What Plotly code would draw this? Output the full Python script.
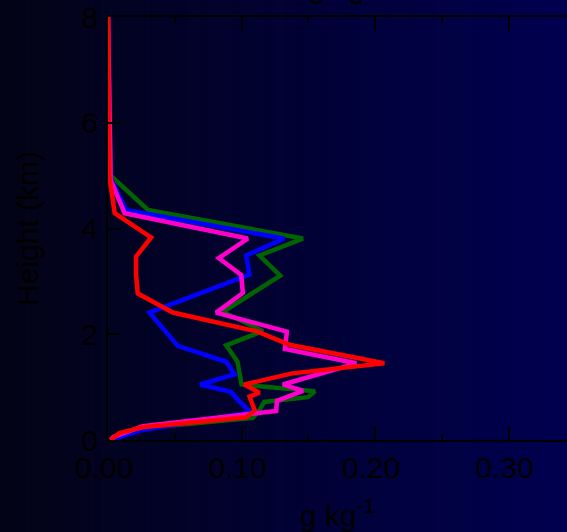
import plotly.graph_objects as go

# ---- data ----
green_h = [8.0, 5.0, 4.35, 3.81, 3.49, 3.11, 2.79, 2.42, 2.06, 1.79, 1.48, 1.05, 0.92, 0.81, 0.72, 0.57, 0.42, 0.22, 0.10, 0.02, 0.0]
green_v = [0.0, 0.002, 0.030, 0.146, 0.1135, 0.129, 0.109, 0.086, 0.116, 0.0885, 0.097, 0.100, 0.155, 0.1497, 0.117, 0.1135, 0.1085, 0.026, 0.008, 0.003, 0.002]

blue_h = [8.0, 4.95, 4.35, 3.81, 3.49, 3.13, 2.41, 1.78, 1.48, 1.24, 1.05, 0.91, 0.74, 0.52, 0.19, 0.06, 0.0]
blue_v = [0.0, 0.002, 0.0136, 0.132, 0.1035, 0.106, 0.031, 0.0523, 0.0885, 0.0948, 0.069, 0.092, 0.098, 0.107, 0.026, 0.008, 0.002]

magenta_h = [8.0, 4.92, 4.29, 3.81, 3.44, 3.12, 2.78, 2.41, 2.05, 1.72, 1.45, 1.05, 0.93, 0.74, 0.55, 0.26, 0.06, 0.0]
magenta_v = [0.0, 0.002, 0.0124, 0.1047, 0.083, 0.0998, 0.101, 0.081, 0.134, 0.1325, 0.186, 0.131, 0.146, 0.1265, 0.126, 0.026, 0.004, 0.002]

red_h = [8.0, 4.98, 4.29, 3.83, 3.47, 3.12, 2.77, 2.41, 2.05, 1.80, 1.45, 1.26, 1.05, 0.895, 0.82, 0.56, 0.43, 0.24, 0.13, 0.03, 0.0]
red_v = [0.0, 0.001, 0.005, 0.0323, 0.021, 0.021, 0.0223, 0.0486, 0.112, 0.136, 0.207, 0.138, 0.102, 0.1135, 0.106, 0.110, 0.1035, 0.026, 0.0086, 0.0024, 0.002]

x_ticks = [0.0, 0.1, 0.2, 0.3]
x_ticklabels = ["0.00", "0.10", "0.20", "0.30"]
y_ticks = [0, 2, 4, 6, 8]

W, H = 567, 532
ML, MR, MT, MB = 108, 0, 17, 92
PW, PH = W - ML - MR, H - MT - MB

fig = go.Figure()
series = [
    (green_v, green_h, "#006400"),
    (blue_v, blue_h, "#0000ff"),
    (magenta_v, magenta_h, "#ff00cc"),
    (red_v, red_h, "#ff0000"),
]
for xv, yv, col in series:
    fig.add_trace(go.Scatter(x=xv, y=yv, mode="lines",
                             line=dict(color=col, width=4.5),
                             showlegend=False, hoverinfo="skip"))

# background horizontal gradient
shapes = []
N = 90
for i in range(N):
    p0 = i * W / N
    p1 = (i + 1) * W / N + 0.8
    t = (i + 0.5) / N
    r = round(3 * (1 - t))
    g = round(3 * (1 - t))
    b = round(22 + (80 - 22) * t)
    shapes.append(dict(type="rect", xref="paper", yref="paper", layer="below",
                       x0=(p0 - ML) / PW, x1=(p1 - ML) / PW,
                       y0=-MB / PH - 0.05, y1=1 + MT / PH + 0.05,
                       line=dict(width=0), fillcolor=f"rgb({r},{g},{b})"))

fig.update_layout(
    width=W, height=H,
    margin=dict(l=ML, r=MR, t=MT, b=MB, pad=0),
    paper_bgcolor="rgb(1,1,50)",
    plot_bgcolor="rgba(0,0,0,0)",
    font=dict(family="Arial, Liberation Sans, sans-serif", size=30, color="black"),
    shapes=shapes,
    showlegend=False,
)

fig.update_xaxes(
    range=[0, PW / 1335.0],
    tickvals=x_ticks, ticktext=x_ticklabels,
    ticks="inside", ticklen=14, tickwidth=2, tickcolor="black",
    minor=dict(dtick=0.05, tick0=0, ticks="inside", ticklen=6, tickwidth=2, tickcolor="black"),
    showline=True, linewidth=2, linecolor="black", mirror="ticks",
    showgrid=False, zeroline=False,
    ticklabelshift=-4, ticklabelstandoff=0,
    title=dict(text="g kg<sup>-1</sup>", standoff=26, font=dict(size=30)),
)
fig.update_yaxes(
    range=[0, 8],
    tickvals=y_ticks,
    ticks="inside", ticklen=13, tickwidth=2, tickcolor="black",
    showline=True, linewidth=2, linecolor="black", mirror=False,
    showgrid=False, zeroline=False,
    ticklabelstandoff=2,
    title=dict(text="Height (km)", standoff=34, font=dict(size=30)),
)

# title (mostly above the visible area, only descenders show)
fig.add_annotation(text="g kg<sup>-1</sup>", xref="paper", yref="paper",
                   x=(345 - ML) / PW, y=(H - MB - 6) / PH, xanchor="center", yanchor="bottom",
                   showarrow=False, font=dict(size=30, color="black"))

fig.write_html("out.html",
               config={"displayModeBar": False},
               post_script="document.body.style.margin='0';document.body.style.overflow='hidden';document.documentElement.style.overflow='hidden';")
